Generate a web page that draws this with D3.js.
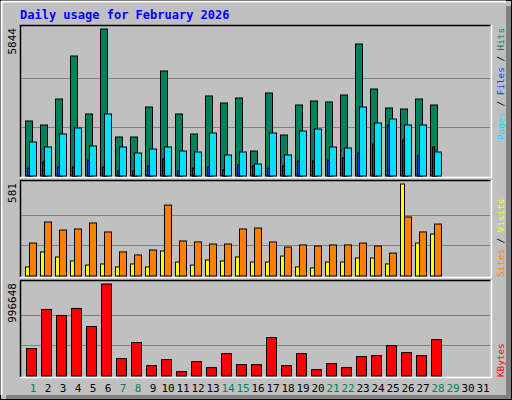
<!DOCTYPE html><html><head><meta charset="utf-8">
<script src="https://cdn.jsdelivr.net/npm/d3@7"></script>
<style>body{margin:0;background:#fff}</style></head><body><svg id="c" width="512" height="400"></svg>
<script>
const days=d3.range(1,32);
const weekend=[1,7,8,14,15,21,22,28,29];
const hits=[2187,2028,3061,4771,2465,5844,1551,1551,2743,4175,2465,1670,3181,2902,3101,994,3300,1630,2823,2982,2942,3220,5248,3459,2704,2664,3061,2823];
const files=[1352,1153,1670,1908,1193,2465,1153,914,1073,1153,994,954,1710,835,954,477,1710,835,1789,1869,1153,1113,2743,2107,2266,2028,2028,954];
const pages=[318,557,358,358,636,358,199,199,398,676,199,318,358,239,437,398,318,398,596,596,636,716,914,1272,2028,1431,795,1153];
const visits=[57,152,120,95,69,76,57,76,57,158,88,69,101,95,120,88,88,126,57,51,88,88,114,114,76,581,208,265];
const sites=[208,341,290,297,335,278,152,133,164,448,221,215,202,202,297,303,215,183,196,189,196,196,208,189,145,373,278,328];
const kbytes=[297182,721209,655975,732082,536375,996648,188456,362418,112349,177584,47114,155839,90604,242820,123222,123222,416781,112349,242820,68858,134094,90604,210201,221073,329800,253692,221073,395036];

const svg=d3.select("#c");
svg.append("rect").attr("x",0.5).attr("y",0.5).attr("width",511).attr("height",399).attr("fill","#c0c0c0").attr("stroke","#000");
svg.append("rect").attr("x",506).attr("y",6).attr("width",5).attr("height",393).attr("fill","#808080");
svg.append("rect").attr("x",6).attr("y",395).attr("width",505).attr("height",4).attr("fill","#808080");
svg.append("line").attr("x1",1).attr("y1",1.5).attr("x2",506).attr("y2",1.5).attr("stroke","#fff").attr("stroke-width",2);
svg.append("line").attr("x1",1.5).attr("y1",1).attr("x2",1.5).attr("y2",395).attr("stroke","#fff").attr("stroke-width",2);
svg.append("text").attr("x",20).attr("y",19).text("Daily usage for February 2026")
  .attr("font-family","DejaVu Sans Mono").attr("font-weight","bold").attr("font-size",12).attr("fill","#0000ff");

const x=d3.scaleBand().domain(days).range([22,487]).paddingInner(0);
function panel(y0,y1,max,label,labels,top){
  const g=svg.append("g");
  g.append("rect").attr("x",20).attr("y",y0).attr("width",471).attr("height",y1-y0).attr("fill","#c0c0c0");
  const y=d3.scaleLinear().domain([0,max]).range([y1-1,y0+4]);
  [1/3,2/3].forEach(f=>g.append("line").attr("x1",21).attr("x2",490).attr("y1",Math.round(y(max*f))+0.5).attr("y2",Math.round(y(max*f))+0.5).attr("stroke","#808080"));
  g.append("path").attr("d",`M20.5,${y1}V${y0+0.5}H490.5`).attr("fill","none").attr("stroke","#000").attr("stroke-width",1.5);
  g.append("path").attr("d",`M20,${y1+0.5}H491.5V${y0}`).attr("fill","none").attr("stroke","#fff").attr("stroke-width",1.5);
  g.append("text").attr("transform",`translate(16,${y0+3}) rotate(-90)`).attr("text-anchor","end")
    .attr("font-family","DejaVu Sans Mono").attr("font-size",11).text(label);
  let t=g.append("text").attr("transform",`translate(504,${top?y0+3:y1}) rotate(-90)`)
    .attr("text-anchor",top?"end":"start")
    .attr("font-family","DejaVu Sans Mono").attr("font-size",9.3);
  labels.forEach(([s,c])=>t.append("tspan").attr("fill",c).text(s));
  return {g,y};
}
function bars(p,data,dx,w,color){
  p.g.selectAll(null).data(data).enter().append("rect")
   .attr("x",(d,i)=>x(i+1)+dx+0.5).attr("width",w).attr("y",d=>p.y(d)).attr("height",d=>p.y(0)-p.y(d))
   .attr("fill",color).attr("stroke","#000").attr("stroke-width",1);
}
const p1=panel(25,177,5844,"5844",[["Pages","#00e0ff"],[" / ","#000"],["Files","#0040ff"],[" / ","#000"],["Hits","#00805c"]],true);
bars(p1,hits,3,7,"#00805c");
bars(p1,pages,5,2,"#0040ff");
bars(p1,files,7,7,"#00e0ff");
const p2=panel(180,277,581,"581",[["Sites","#ff8000"],[" / ","#000"],["Visits","#ffff00"]]);
bars(p2,visits,3,4,"#ffff00");
bars(p2,sites,7,7,"#ff8000");
const p3=panel(280,377,996648,"996648",[["KBytes","#ff0000"]]);
bars(p3,kbytes,4,10,"#ff0000");
svg.selectAll(null).data(days).enter().append("text")
 .attr("x",d=>x(d)+11).attr("y",392).attr("text-anchor","middle")
 .attr("font-family","DejaVu Sans Mono").attr("font-size",11)
 .attr("fill",d=>weekend.includes(d)?"#00805c":"#000").text(d=>d);
</script></body></html>
